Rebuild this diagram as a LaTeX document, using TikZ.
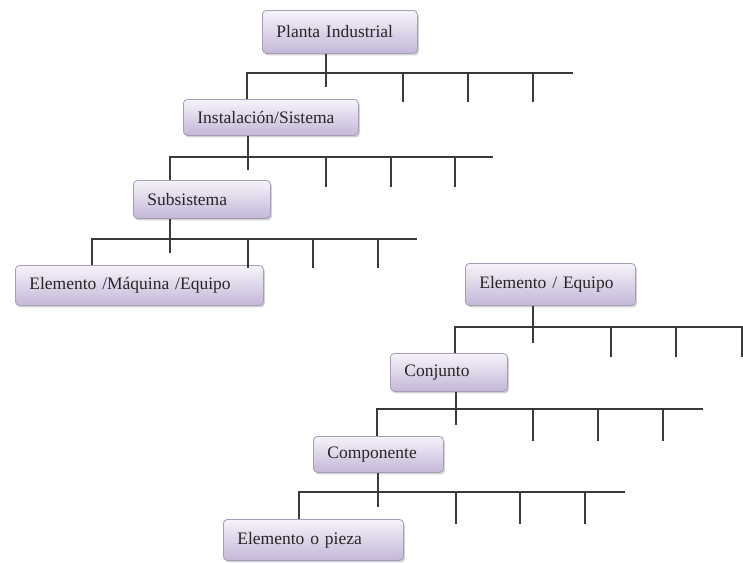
\documentclass[tikz,border=0pt]{standalone}
\usepackage{fontspec}
\setmainfont{Liberation Serif}
\usetikzlibrary{shadows}
\definecolor{boxtop}{HTML}{F6F3FA}
\definecolor{boxbot}{HTML}{C4B7D8}
\definecolor{boxline}{HTML}{A79DB6}
\definecolor{wire}{HTML}{3A3A3A}
\tikzset{
  box/.style={rectangle, rounded corners=4pt, draw=boxline, line width=0.8pt,
    top color=boxtop, bottom color=boxbot, anchor=north west,
    inner xsep=14pt, inner ysep=0pt, align=left, text=black!85,
    font=\fontsize{17.5}{20}\selectfont,
    drop shadow={shadow xshift=1.5pt, shadow yshift=-2pt, opacity=0.35}},
  wire/.style={draw=wire, line width=2pt}
}
\begin{document}
\begin{tikzpicture}[x=1pt, y=-1pt]
\useasboundingbox (0,0) rectangle (743,562);

% hierarchy of the plant
\node[box, text width=127pt, minimum height=43pt] (p1) at (262,10) {Planta Industrial};
\node[box, text width=147pt, minimum height=36pt] (p2) at (183,99) {Instalación/Sistema};
\node[box, text width=109pt, minimum height=38pt] (p3) at (133,180) {Subsistema};
\node[box, text width=220pt, minimum height=40pt] (p4) at (15,265) {Elemento /Máquina /Equipo};

% hierarchy of the equipment
\node[box, text width=142pt, minimum height=42pt] (p5) at (465,263) {Elemento / Equipo};
\node[box, text width=89pt, minimum height=38pt] (p6) at (390,353) {Conjunto};
\node[box, text width=102pt, minimum height=36pt] (p7) at (313,436) {Componente};
\node[box, text width=152pt, minimum height=41pt] (p8) at (223,519) {Elemento o pieza};

% branch bars: parent, stem x, stem end, bar y, bar left, bar right, ticks, tick end, child
\foreach \Pn/\Sx/\Se/\By/\Bl/\Br/\Ticks/\Te/\Ch in {
  p1/326/87/73/247/573/{403,468,533}/102/p2,
  p2/248/170/157/170/493/{326,391,455}/187/p3,
  p3/170/253/239/92/417/{248,313,378}/268/p4,
  p5/533/343/327/455/743/{611,676,742}/357/p6,
  p6/456/425/409/377/703/{533,598,663}/441/p7,
  p7/378/507/492/299/625/{456,520,585}/524/p8}{
  \coordinate (stem-\Pn) at (\Sx,\Se);
  \coordinate (barl-\Pn) at (\Bl,\By);
  \coordinate (barr-\Pn) at (\Br,\By);
  \draw[wire] (stem-\Pn |- \Pn.south) -- (stem-\Pn);
  \draw[wire] (\Ch.north -| barl-\Pn) -- (barl-\Pn) -- (barr-\Pn);
  \foreach \T in \Ticks {
    \coordinate (tick-\Pn-\T) at (\T,\Te);
    \draw[wire] (tick-\Pn-\T |- barl-\Pn) -- (tick-\Pn-\T);
  }
}
\end{tikzpicture}
\end{document}
